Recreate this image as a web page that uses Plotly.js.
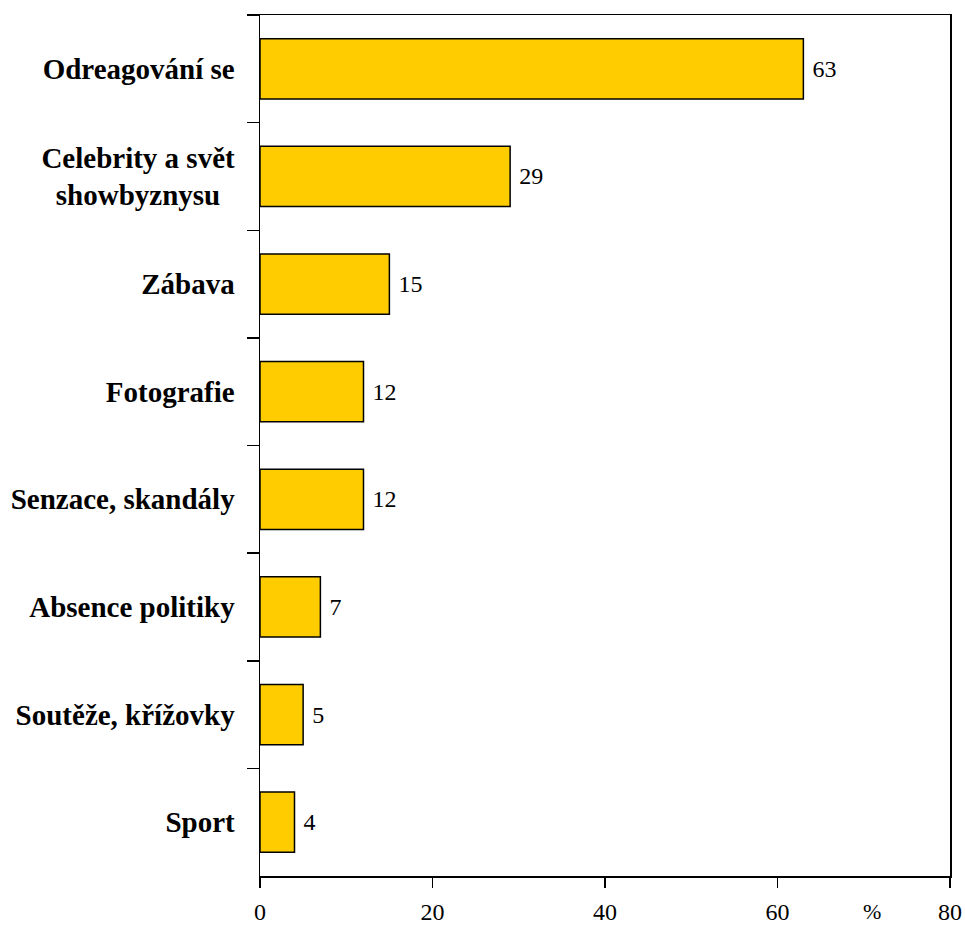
<!DOCTYPE html>
<html>
<head>
<meta charset="utf-8">
<script src="https://cdn.plot.ly/plotly-3.0.1.min.js"></script>
<style>html,body{margin:0;padding:0;background:#fff;}</style>
</head>
<body>
<div id="chart" style="width:965px;height:925px;"></div>
<script>
const categories = ["Odreagování se", "Celebrity a svět<br>showbyznysu\u00a0\u00a0", "Zábava", "Fotografie", "Senzace, skandály", "Absence politiky", "Soutěže, křížovky", "Sport"];
const values = [63, 29, 15, 12, 12, 7, 5, 4];
const xTicks = [0, 20, 40, 60, 80];
const unitLabel = "%";

const serif = "Liberation Serif, Times New Roman, serif";

const trace = {
  type: "bar",
  orientation: "h",
  y: categories,
  x: values,
  text: values.map(v => "\u00a0" + v),
  textposition: "outside",
  cliponaxis: false,
  textfont: {family: serif, size: 24, color: "#000"},
  marker: {color: "#FFCC00", line: {color: "#000", width: 1.5}},
  hoverinfo: "skip"
};

const layout = {
  width: 965, height: 925,
  margin: {l: 260, r: 15, t: 15, b: 49},
  paper_bgcolor: "#fff", plot_bgcolor: "#fff",
  showlegend: false,
  bargap: 0.44,
  font: {family: serif, color: "#000"},
  xaxis: {
    range: [0, 80],
    tickvals: xTicks,
    ticktext: xTicks.map(String),
    showgrid: false, zeroline: false,
    showline: true, linecolor: "#000", linewidth: 1.5, mirror: true,
    ticks: "outside", ticklen: 10, tickwidth: 1.5, tickcolor: "#000",
    tickfont: {family: serif, size: 24, color: "#000"},
    ticklabelstandoff: 4
  },
  yaxis: {
    type: "category",
    categoryorder: "array",
    categoryarray: categories,
    autorange: "reversed",
    tickson: "boundaries",
    showgrid: false, zeroline: false,
    showline: true, linecolor: "#000", linewidth: 1.5, mirror: true,
    ticks: "outside", ticklen: 12, tickwidth: 1.5, tickcolor: "#000",
    tickfont: {family: serif, size: 29, color: "#000", weight: "bold"},
    ticklabelstandoff: 18
  },
  annotations: [{
    text: unitLabel, xref: "x", yref: "paper", x: 71, y: 0, yanchor: "middle", yshift: -35,
    showarrow: false, font: {family: serif, size: 22, color: "#000"}
  }]
};

Plotly.newPlot("chart", [trace], layout, {displayModeBar: false, staticPlot: true});
</script>
</body>
</html>
